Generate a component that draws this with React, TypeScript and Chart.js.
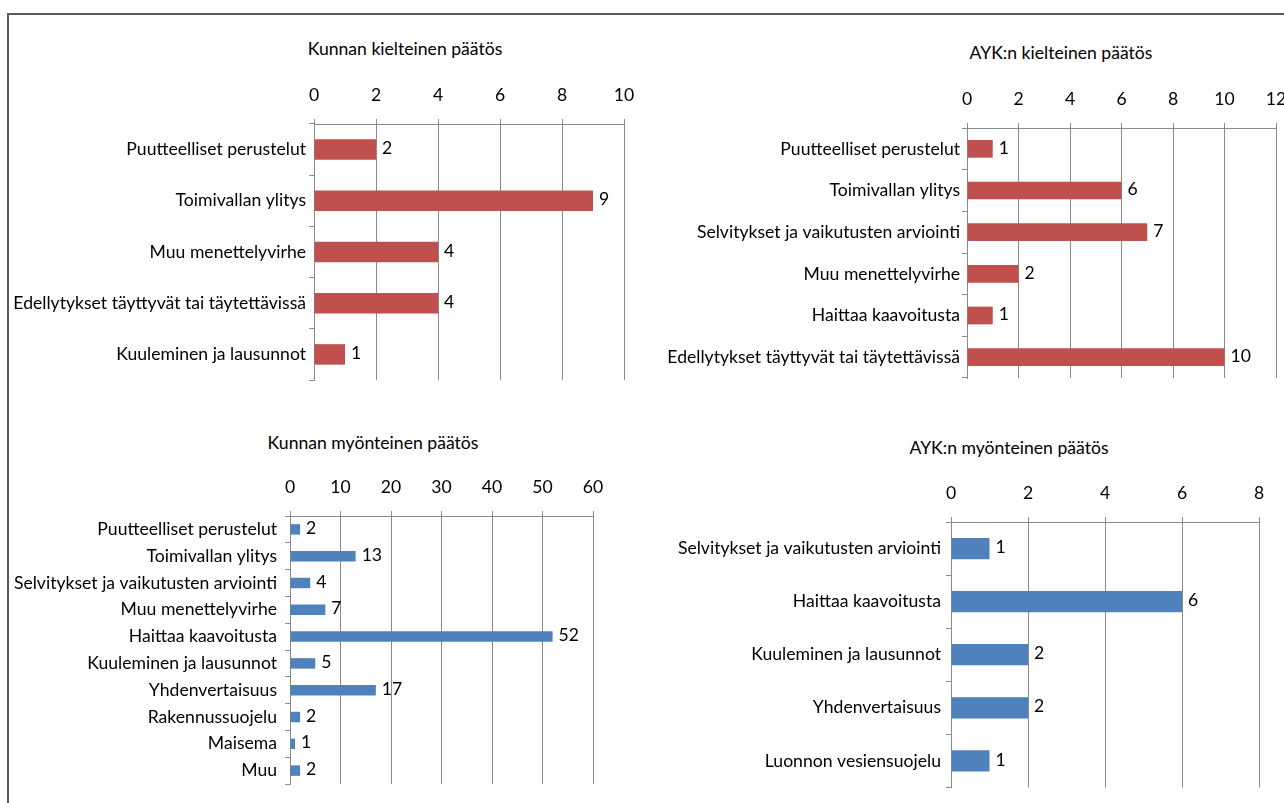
import React, { useEffect, useRef } from "react";
import { Chart, registerables } from "chart.js";

Chart.register(...registerables);

// ---- Data ----
const kuntaKieltLabels = [
  "Puutteelliset perustelut",
  "Toimivallan ylitys",
  "Muu menettelyvirhe",
  "Edellytykset täyttyvät tai täytettävissä",
  "Kuuleminen ja lausunnot",
];
const kuntaKieltValues = [2, 9, 4, 4, 1];

const aykKieltLabels = [
  "Puutteelliset perustelut",
  "Toimivallan ylitys",
  "Selvitykset ja vaikutusten arviointi",
  "Muu menettelyvirhe",
  "Haittaa kaavoitusta",
  "Edellytykset täyttyvät tai täytettävissä",
];
const aykKieltValues = [1, 6, 7, 2, 1, 10];

const kuntaMyontLabels = [
  "Puutteelliset perustelut",
  "Toimivallan ylitys",
  "Selvitykset ja vaikutusten arviointi",
  "Muu menettelyvirhe",
  "Haittaa kaavoitusta",
  "Kuuleminen ja lausunnot",
  "Yhdenvertaisuus",
  "Rakennussuojelu",
  "Maisema",
  "Muu",
];
const kuntaMyontValues = [2, 13, 4, 7, 52, 5, 17, 2, 1, 2];

const aykMyontLabels = [
  "Selvitykset ja vaikutusten arviointi",
  "Haittaa kaavoitusta",
  "Kuuleminen ja lausunnot",
  "Yhdenvertaisuus",
  "Luonnon vesiensuojelu",
];
const aykMyontValues = [1, 6, 2, 2, 1];

const titles = [
  "Kunnan kielteinen päätös",
  "AYK:n kielteinen päätös",
  "Kunnan myönteinen päätös",
  "AYK:n myönteinen päätös",
];
const axisMax = [10, 12, 60, 8];
const axisStep = [2, 2, 10, 2];

// ---- Styles ----
const RED = "#C0504D";
const BLUE = "#4F81BD";
const GRID = "#8a8a8a";
const FONT_FAMILY = "Lato, 'Open Sans', sans-serif";
const FONT_SIZE = 17.6;

const valueLabelPlugin = {
  id: "valueLabels",
  afterDatasetsDraw(chart: any) {
    const ctx = chart.ctx;
    ctx.save();
    ctx.font = `${FONT_SIZE}px ${FONT_FAMILY}`;
    ctx.fillStyle = "#000";
    ctx.textAlign = "left";
    ctx.textBaseline = "middle";
    chart.data.datasets.forEach((ds: any, di: number) => {
      const meta = chart.getDatasetMeta(di);
      meta.data.forEach((bar: any, i: number) => {
        ctx.fillText(String(ds.data[i]), bar.x + 6, bar.y - 1);
      });
    });
    ctx.restore();
  },
};

type Geo = {
  left: number;
  top: number;
  width: number;
  height: number;
  plotLeft: number;
  plotTop: number;
  plotRight: number;
  plotBottom: number;
  barPct: number;
  yPad: number;
};

function BarPanel(props: {
  labels: string[];
  values: number[];
  color: string;
  max: number;
  step: number;
  geo: Geo;
}) {
  const ref = useRef<HTMLCanvasElement | null>(null);
  const { labels, values, color, max, step, geo } = props;
  useEffect(() => {
    if (!ref.current) return;
    const yWidth = geo.plotLeft - geo.left;
    const xHeight = geo.plotTop - geo.top;
    const chart = new Chart(ref.current, {
      type: "bar",
      data: {
        labels,
        datasets: [
          {
            data: values,
            backgroundColor: color,
            borderWidth: 0,
            barPercentage: geo.barPct,
            categoryPercentage: 1,
          },
        ],
      },
      options: {
        indexAxis: "y",
        responsive: false,
        animation: false,
        devicePixelRatio: 1,
        layout: {
          padding: {
            left: 0,
            top: 0,
            right: geo.left + geo.width - geo.plotRight,
            bottom: geo.top + geo.height - geo.plotBottom,
          },
        },
        plugins: {
          legend: { display: false },
          title: { display: false },
          tooltip: { enabled: false },
        },
        scales: {
          x: {
            position: "top",
            min: 0,
            max,
            ticks: {
              stepSize: step,
              color: "#000",
              padding: 13,
              font: { family: FONT_FAMILY, size: FONT_SIZE },
            },
            grid: {
              color: GRID,
              lineWidth: 1,
              drawTicks: true,
              tickLength: 5,
            },
            border: { display: true, color: GRID, width: 1 },
            afterFit: (scale: any) => {
              scale.height = xHeight;
            },
          },
          y: {
            ticks: {
              color: "#000",
              padding: geo.yPad,
              autoSkip: false,
              font: { family: FONT_FAMILY, size: FONT_SIZE },
            },
            grid: {
              offset: true,
              drawOnChartArea: false,
              drawTicks: true,
              tickLength: 5,
              color: GRID,
            },
            border: { display: true, color: GRID, width: 1 },
            afterFit: (scale: any) => {
              scale.width = yWidth;
            },
          },
        },
      },
      plugins: [valueLabelPlugin],
    });
    return () => chart.destroy();
  }, []);
  return (
    <canvas
      ref={ref}
      width={geo.width}
      height={geo.height}
      style={{
        position: "absolute",
        left: geo.left,
        top: geo.top,
        width: geo.width,
        height: geo.height,
      }}
    />
  );
}

function Title(props: { text: string; cx: number; cy: number }) {
  return (
    <div
      style={{
        position: "absolute",
        left: props.cx - 200,
        top: props.cy - 11,
        width: 400,
        height: 22,
        lineHeight: "22px",
        textAlign: "center",
        fontFamily: FONT_FAMILY,
        fontSize: FONT_SIZE,
        color: "#000",
        whiteSpace: "nowrap",
      }}
    >
      {props.text}
    </div>
  );
}

const geos: Geo[] = [
  { left: 0, top: 0, width: 664, height: 400, plotLeft: 314, plotTop: 124, plotRight: 624, plotBottom: 380, barPct: 0.4, yPad: 3 },
  { left: 642, top: 0, width: 680, height: 400, plotLeft: 967, plotTop: 128, plotRight: 1276, plotBottom: 378, barPct: 0.425, yPad: 2 },
  { left: 0, top: 400, width: 640, height: 403, plotLeft: 290, plotTop: 516, plotRight: 593, plotBottom: 784, barPct: 0.39, yPad: 8 },
  { left: 642, top: 400, width: 660, height: 403, plotLeft: 951, plotTop: 522, plotRight: 1259, plotBottom: 790, barPct: 0.4, yPad: 5 },
];

export default function App() {
  return (
    <div
      style={{
        position: "fixed",
        left: 0,
        top: 0,
        width: 1284,
        height: 803,
        overflow: "hidden",
        background: "#fff",
      }}
    >
      <div
        style={{
          position: "absolute",
          left: 7,
          top: 13,
          width: 1300,
          height: 820,
          borderTop: "2px solid #5a5a5a",
          borderLeft: "2px solid #5a5a5a",
          boxSizing: "border-box",
        }}
      />
      <Title text={titles[0]} cx={405} cy={49} />
      <Title text={titles[1]} cx={1061} cy={53} />
      <Title text={titles[2]} cx={373} cy={443} />
      <Title text={titles[3]} cx={1009} cy={448} />
      <BarPanel labels={kuntaKieltLabels} values={kuntaKieltValues} color={RED} max={axisMax[0]} step={axisStep[0]} geo={geos[0]} />
      <BarPanel labels={aykKieltLabels} values={aykKieltValues} color={RED} max={axisMax[1]} step={axisStep[1]} geo={geos[1]} />
      <BarPanel labels={kuntaMyontLabels} values={kuntaMyontValues} color={BLUE} max={axisMax[2]} step={axisStep[2]} geo={geos[2]} />
      <BarPanel labels={aykMyontLabels} values={aykMyontValues} color={BLUE} max={axisMax[3]} step={axisStep[3]} geo={geos[3]} />
    </div>
  );
}
